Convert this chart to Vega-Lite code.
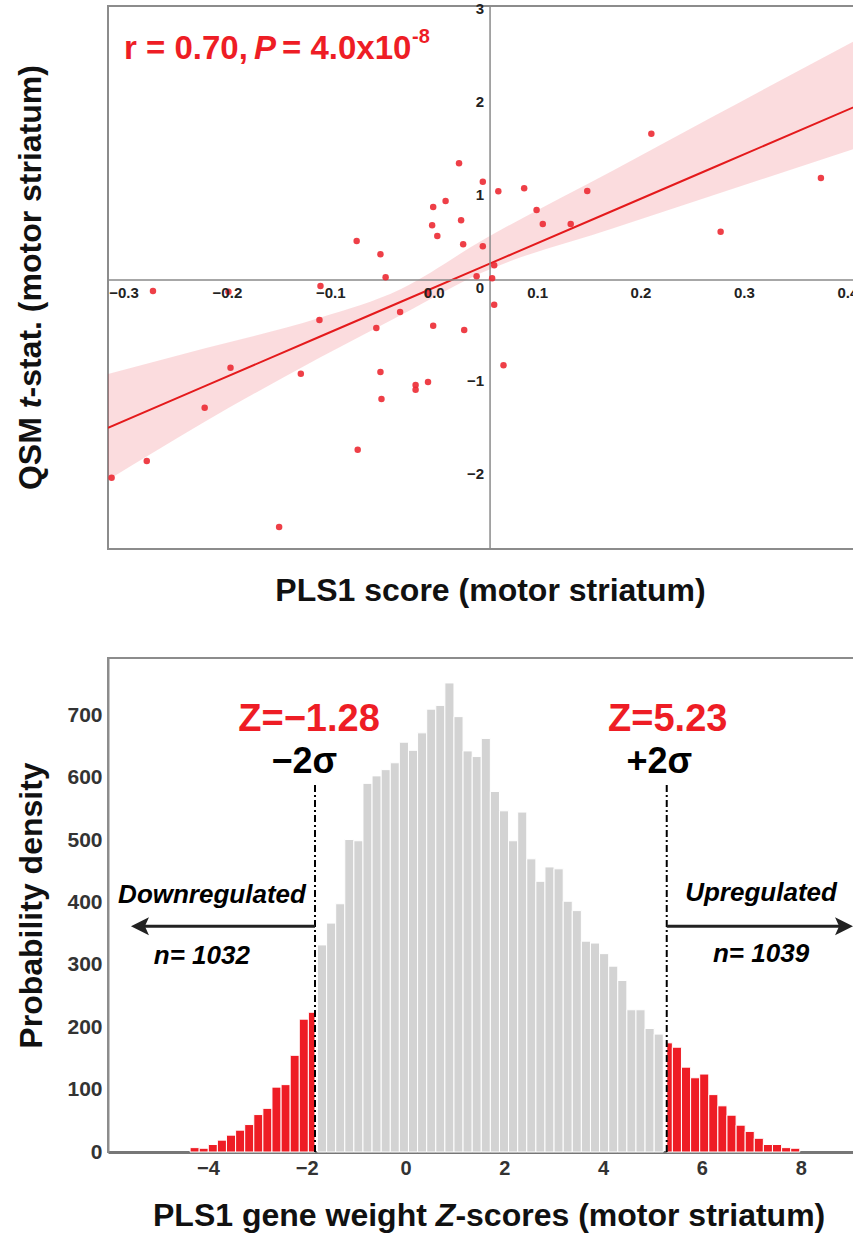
{
  "$schema": "https://vega.github.io/schema/vega-lite/v6.json",
  "background": "white",
  "padding": {"left": 13, "top": 0, "right": 0, "bottom": 0},
  "spacing": 109,
  "bounds": "flush",
  "datasets": {
    "points": [
      {"x": 0.024, "y": 1.341}, {"x": 0.047, "y": 1.143}, {"x": -0.001, "y": 0.871}, {"x": 0.011, "y": 0.935},
      {"x": 0.026, "y": 0.728}, {"x": -0.002, "y": 0.674}, {"x": 0.003, "y": 0.559}, {"x": 0.028, "y": 0.47},
      {"x": 0.047, "y": 0.448}, {"x": -0.075, "y": 0.505}, {"x": -0.052, "y": 0.362}, {"x": -0.047, "y": 0.115},
      {"x": 0.041, "y": 0.126}, {"x": 0.21, "y": 1.659}, {"x": 0.062, "y": 1.04}, {"x": 0.087, "y": 1.072},
      {"x": 0.099, "y": 0.839}, {"x": 0.105, "y": 0.688}, {"x": 0.132, "y": 0.688}, {"x": 0.148, "y": 1.043},
      {"x": 0.374, "y": 1.183}, {"x": 0.277, "y": 0.605}, {"x": 0.058, "y": 0.244}, {"x": 0.056, "y": 0.104},
      {"x": -0.272, "y": -0.032}, {"x": -0.199, "y": -0.04}, {"x": -0.11, "y": 0.022}, {"x": -0.006, "y": -0.061},
      {"x": -0.033, "y": -0.258}, {"x": -0.111, "y": -0.344}, {"x": -0.056, "y": -0.43}, {"x": -0.001, "y": -0.405},
      {"x": 0.029, "y": -0.452}, {"x": -0.197, "y": -0.857}, {"x": -0.129, "y": -0.922}, {"x": -0.052, "y": -0.903},
      {"x": -0.018, "y": -1.043}, {"x": -0.018, "y": -1.094}, {"x": -0.006, "y": -1.011}, {"x": -0.051, "y": -1.194},
      {"x": -0.222, "y": -1.287}, {"x": -0.278, "y": -1.86}, {"x": -0.312, "y": -2.04}, {"x": -0.074, "y": -1.739},
      {"x": -0.15, "y": -2.57}, {"x": 0.058, "y": -0.18}, {"x": 0.067, "y": -0.831}
    ],
    "fitband": [
      {"x": -0.3155, "lo": -2.065, "hi": -0.925, "fit": -1.503},
      {"x": -0.2207, "lo": -1.43, "hi": -0.645, "fit": -1.05},
      {"x": -0.1114, "lo": -0.753, "hi": -0.323, "fit": -0.527},
      {"x": -0.0321, "lo": -0.29, "hi": -0.011, "fit": -0.148},
      {"x": 0.0453, "lo": 0.161, "hi": 0.505, "fit": 0.222},
      {"x": 0.1739, "lo": 0.645, "hi": 1.269, "fit": 0.836},
      {"x": 0.2706, "lo": 1.0, "hi": 1.849, "fit": 1.298},
      {"x": 0.4234, "lo": 1.559, "hi": 2.758, "fit": 2.029}
    ],
    "spines": [{"cx": 0.054, "cy": 0.086}],
    "xticks": [
      {"v": -0.3, "t": "−0.3"}, {"v": -0.2, "t": "−0.2"}, {"v": -0.1, "t": "−0.1"}, {"v": 0.0, "t": "0.0"},
      {"v": 0.1, "t": "0.1"}, {"v": 0.2, "t": "0.2"}, {"v": 0.3, "t": "0.3"}, {"v": 0.4, "t": "0.4"}
    ],
    "yticks": [
      {"v": -2, "t": "−2"}, {"v": -1, "t": "−1"}, {"v": 0, "t": "0"},
      {"v": 1, "t": "1"}, {"v": 2, "t": "2"}, {"v": 3, "t": "3"}
    ],
    "yTitleUpright": [
      {"x": -0.3803, "y": -2.172, "t": "QSM"},
      {"x": -0.3803, "y": -1.177, "t": "-stat. (motor striatum)"}
    ],
    "yTitleItalic": [{"x": -0.3803, "y": -1.292, "t": "t"}],
    "statText": [
      {"x": -0.3, "y": 2.462, "t": "r = 0.70,"},
      {"x": -0.1472, "y": 2.462, "t": "= 4.0x10"}
    ],
    "statItalic": [{"x": -0.1743, "y": 2.462, "t": "P"}],
    "statSup": [{"x": -0.0215, "y": 2.634, "t": "-8"}],
    "hist": [
      {"a": -4.36, "b": -4.176, "n": 7, "g": "down"},
      {"a": -4.176, "b": -3.992, "n": 6, "g": "down"},
      {"a": -3.992, "b": -3.808, "n": 12, "g": "down"},
      {"a": -3.808, "b": -3.624, "n": 19, "g": "down"},
      {"a": -3.624, "b": -3.439, "n": 27, "g": "down"},
      {"a": -3.439, "b": -3.255, "n": 35, "g": "down"},
      {"a": -3.255, "b": -3.071, "n": 44, "g": "down"},
      {"a": -3.071, "b": -2.887, "n": 60, "g": "down"},
      {"a": -2.887, "b": -2.703, "n": 70, "g": "down"},
      {"a": -2.703, "b": -2.518, "n": 104, "g": "down"},
      {"a": -2.518, "b": -2.334, "n": 108, "g": "down"},
      {"a": -2.334, "b": -2.15, "n": 155, "g": "down"},
      {"a": -2.15, "b": -1.966, "n": 213, "g": "down"},
      {"a": -1.966, "b": -1.832, "n": 224, "g": "down"},
      {"a": -1.782, "b": -1.597, "n": 332, "g": "mid"},
      {"a": -1.597, "b": -1.413, "n": 367, "g": "mid"},
      {"a": -1.413, "b": -1.229, "n": 398, "g": "mid"},
      {"a": -1.229, "b": -1.045, "n": 501, "g": "mid"},
      {"a": -1.045, "b": -0.861, "n": 499, "g": "mid"},
      {"a": -0.861, "b": -0.677, "n": 591, "g": "mid"},
      {"a": -0.677, "b": -0.492, "n": 603, "g": "mid"},
      {"a": -0.492, "b": -0.308, "n": 613, "g": "mid"},
      {"a": -0.308, "b": -0.124, "n": 624, "g": "mid"},
      {"a": -0.124, "b": 0.06, "n": 657, "g": "mid"},
      {"a": 0.06, "b": 0.244, "n": 644, "g": "mid"},
      {"a": 0.244, "b": 0.429, "n": 672, "g": "mid"},
      {"a": 0.429, "b": 0.613, "n": 710, "g": "mid"},
      {"a": 0.613, "b": 0.797, "n": 716, "g": "mid"},
      {"a": 0.797, "b": 0.981, "n": 752, "g": "mid"},
      {"a": 0.981, "b": 1.165, "n": 698, "g": "mid"},
      {"a": 1.165, "b": 1.35, "n": 643, "g": "mid"},
      {"a": 1.35, "b": 1.534, "n": 634, "g": "mid"},
      {"a": 1.534, "b": 1.718, "n": 663, "g": "mid"},
      {"a": 1.718, "b": 1.902, "n": 578, "g": "mid"},
      {"a": 1.902, "b": 2.086, "n": 547, "g": "mid"},
      {"a": 2.086, "b": 2.271, "n": 499, "g": "mid"},
      {"a": 2.271, "b": 2.455, "n": 545, "g": "mid"},
      {"a": 2.455, "b": 2.639, "n": 470, "g": "mid"},
      {"a": 2.639, "b": 2.823, "n": 434, "g": "mid"},
      {"a": 2.823, "b": 3.007, "n": 457, "g": "mid"},
      {"a": 3.007, "b": 3.192, "n": 454, "g": "mid"},
      {"a": 3.192, "b": 3.376, "n": 402, "g": "mid"},
      {"a": 3.376, "b": 3.56, "n": 387, "g": "mid"},
      {"a": 3.56, "b": 3.744, "n": 338, "g": "mid"},
      {"a": 3.744, "b": 3.928, "n": 335, "g": "mid"},
      {"a": 3.928, "b": 4.113, "n": 318, "g": "mid"},
      {"a": 4.113, "b": 4.297, "n": 298, "g": "mid"},
      {"a": 4.297, "b": 4.481, "n": 275, "g": "mid"},
      {"a": 4.481, "b": 4.665, "n": 228, "g": "mid"},
      {"a": 4.665, "b": 4.849, "n": 228, "g": "mid"},
      {"a": 4.849, "b": 5.034, "n": 198, "g": "mid"},
      {"a": 5.034, "b": 5.218, "n": 189, "g": "mid"},
      {"a": 5.288, "b": 5.402, "n": 175, "g": "up"},
      {"a": 5.402, "b": 5.586, "n": 168, "g": "up"},
      {"a": 5.586, "b": 5.771, "n": 136, "g": "up"},
      {"a": 5.771, "b": 5.955, "n": 119, "g": "up"},
      {"a": 5.955, "b": 6.139, "n": 125, "g": "up"},
      {"a": 6.139, "b": 6.323, "n": 92, "g": "up"},
      {"a": 6.323, "b": 6.507, "n": 74, "g": "up"},
      {"a": 6.507, "b": 6.692, "n": 59, "g": "up"},
      {"a": 6.692, "b": 6.876, "n": 43, "g": "up"},
      {"a": 6.876, "b": 7.06, "n": 33, "g": "up"},
      {"a": 7.06, "b": 7.244, "n": 22, "g": "up"},
      {"a": 7.244, "b": 7.428, "n": 12, "g": "up"},
      {"a": 7.428, "b": 7.613, "n": 12, "g": "up"},
      {"a": 7.613, "b": 7.797, "n": 7, "g": "up"},
      {"a": 7.797, "b": 7.981, "n": 6, "g": "up"}
    ],
    "cutoffs": [{"z": -1.832, "bottom": 0, "top": 592}, {"z": 5.288, "bottom": 0, "top": 592}],
    "arrows": [
      {"from": -1.832, "to": -5.375, "level": 362, "dir": "left"},
      {"from": 5.288, "to": 8.877, "level": 362, "dir": "right"}
    ],
    "zLabels": [
      {"x": -1.953, "y": 675, "t": "Z=−1.28"},
      {"x": 5.308, "y": 675, "t": "Z=5.23"}
    ],
    "sigmaLabels": [
      {"x": -2.049, "y": 608, "t": "−2σ"},
      {"x": 5.138, "y": 608, "t": "+2σ"}
    ],
    "regLabels": [
      {"x": -3.917, "y": 400, "t": "Downregulated"},
      {"x": -4.123, "y": 302, "t": "n= 1032"},
      {"x": 7.197, "y": 403, "t": "Upregulated"},
      {"x": 7.197, "y": 305, "t": "n= 1039"}
    ],
    "xTitleUpright": [
      {"x": -5.111, "y": -118.4, "t": "PLS1 gene weight"},
      {"x": 1.01, "y": -118.4, "t": "-scores (motor striatum)"}
    ],
    "xTitleItalic": [{"x": 0.613, "y": -118.4, "t": "Z"}]
  },
  "vconcat": [
    {
      "width": 764,
      "height": 543,
      "layer": [
        {
          "data": {"name": "fitband"},
          "mark": {"type": "area", "color": "#e8262f", "opacity": 0.16, "interpolate": "monotone", "clip": true},
          "encoding": {
            "x": {"field": "x", "type": "quantitative",
                  "scale": {"domain": [-0.3155, 0.4234], "nice": false, "zero": false},
                  "axis": {"title": "PLS1 score (motor striatum)", "labels": false, "ticks": false, "domain": false, "titlePadding": 26}},
            "y": {"field": "lo", "type": "quantitative",
                  "scale": {"domain": [-2.806, 3.032], "nice": false, "zero": false},
                  "axis": null},
            "y2": {"field": "hi"}
          }
        },
        {
          "data": {"name": "fitband"},
          "mark": {"type": "line", "color": "#e41a1c", "strokeWidth": 2, "clip": true},
          "encoding": {
            "x": {"field": "x", "type": "quantitative"},
            "y": {"field": "fit", "type": "quantitative"}
          }
        },
        {
          "data": {"name": "spines"},
          "mark": {"type": "rule", "color": "#8a8a8a", "strokeWidth": 1.5},
          "encoding": {"x": {"field": "cx", "type": "quantitative"}}
        },
        {
          "data": {"name": "spines"},
          "mark": {"type": "rule", "color": "#8a8a8a", "strokeWidth": 1.5},
          "encoding": {"y": {"field": "cy", "type": "quantitative"}}
        },
        {
          "data": {"name": "points"},
          "mark": {"type": "circle", "size": 42, "color": "#ec2a33", "opacity": 0.9, "clip": true},
          "encoding": {
            "x": {"field": "x", "type": "quantitative"},
            "y": {"field": "y", "type": "quantitative"}
          }
        },
        {
          "data": {"name": "xticks"},
          "mark": {"type": "text", "font": "Liberation Sans", "fontWeight": "bold", "fontSize": 15, "color": "#222", "align": "center", "baseline": "middle", "dy": 13},
          "encoding": {
            "x": {"field": "v", "type": "quantitative"},
            "y": {"datum": 0.086},
            "text": {"field": "t"}
          }
        },
        {
          "data": {"name": "yticks"},
          "mark": {"type": "text", "font": "Liberation Sans", "fontWeight": "bold", "fontSize": 15, "color": "#222", "align": "right", "baseline": "middle", "dx": -6},
          "encoding": {
            "x": {"datum": 0.054},
            "y": {"field": "v", "type": "quantitative"},
            "text": {"field": "t"}
          }
        },
        {
          "data": {"name": "yTitleUpright"},
          "mark": {"type": "text", "font": "Liberation Sans", "fontWeight": "bold", "fontSize": 32, "color": "#111", "angle": 270, "align": "left", "baseline": "alphabetic"},
          "encoding": {
            "x": {"field": "x", "type": "quantitative"},
            "y": {"field": "y", "type": "quantitative"},
            "text": {"field": "t"}
          }
        },
        {
          "data": {"name": "yTitleItalic"},
          "mark": {"type": "text", "font": "Liberation Sans", "fontWeight": "bold", "fontStyle": "italic", "fontSize": 32, "color": "#111", "angle": 270, "align": "left", "baseline": "alphabetic"},
          "encoding": {
            "x": {"field": "x", "type": "quantitative"},
            "y": {"field": "y", "type": "quantitative"},
            "text": {"field": "t"}
          }
        },
        {
          "data": {"name": "statText"},
          "mark": {"type": "text", "font": "Liberation Sans", "fontWeight": "bold", "fontSize": 33, "color": "#ee1d25", "align": "left", "baseline": "alphabetic"},
          "encoding": {
            "x": {"field": "x", "type": "quantitative"},
            "y": {"field": "y", "type": "quantitative"},
            "text": {"field": "t"}
          }
        },
        {
          "data": {"name": "statItalic"},
          "mark": {"type": "text", "font": "Liberation Sans", "fontWeight": "bold", "fontStyle": "italic", "fontSize": 33, "color": "#ee1d25", "align": "left", "baseline": "alphabetic"},
          "encoding": {
            "x": {"field": "x", "type": "quantitative"},
            "y": {"field": "y", "type": "quantitative"},
            "text": {"field": "t"}
          }
        },
        {
          "data": {"name": "statSup"},
          "mark": {"type": "text", "font": "Liberation Sans", "fontWeight": "bold", "fontSize": 20, "color": "#ee1d25", "align": "left", "baseline": "alphabetic"},
          "encoding": {
            "x": {"field": "x", "type": "quantitative"},
            "y": {"field": "y", "type": "quantitative"},
            "text": {"field": "t"}
          }
        }
      ]
    },
    {
      "width": 764,
      "height": 494,
      "layer": [
        {
          "data": {"name": "hist"},
          "mark": {"type": "rect", "stroke": "white", "strokeWidth": 1},
          "encoding": {
            "x": {"field": "a", "type": "quantitative",
                  "scale": {"domain": [-6.022, 9.443], "nice": false, "zero": false},
                  "axis": {"title": null, "values": [-4, -2, 0, 2, 4, 6, 8],
                           "ticks": false, "labelPadding": 6, "labelFontSize": 20, "domainColor": "#777", "domainWidth": 3}},
            "x2": {"field": "b"},
            "y": {"field": "n", "type": "quantitative",
                  "scale": {"domain": [0, 792], "nice": false, "zero": true},
                  "axis": {"title": "Probability density", "values": [0, 100, 200, 300, 400, 500, 600, 700],
                           "ticks": false, "labelPadding": 6, "labelFontSize": 21, "domainColor": "#8c8c8c", "domainWidth": 2, "titlePadding": 18}},
            "y2": {"datum": 0},
            "color": {"field": "g", "type": "nominal",
                      "scale": {"domain": ["down", "mid", "up"], "range": ["#ee1d25", "#d3d3d3", "#ee1d25"]},
                      "legend": null}
          }
        },
        {
          "data": {"name": "cutoffs"},
          "mark": {"type": "rule", "color": "#000", "strokeWidth": 2, "strokeDash": [7, 3, 2, 3]},
          "encoding": {
            "x": {"field": "z", "type": "quantitative"},
            "y": {"field": "bottom", "type": "quantitative"},
            "y2": {"field": "top"}
          }
        },
        {
          "data": {"name": "arrows"},
          "mark": {"type": "rule", "color": "#222", "strokeWidth": 3},
          "encoding": {
            "x": {"field": "from", "type": "quantitative"},
            "x2": {"field": "to"},
            "y": {"field": "level", "type": "quantitative"}
          }
        },
        {
          "data": {"name": "arrows"},
          "mark": {"type": "point", "filled": true, "opacity": 1, "color": "#222", "size": 324},
          "encoding": {
            "x": {"field": "to", "type": "quantitative"},
            "y": {"field": "level", "type": "quantitative"},
            "shape": {"field": "dir", "type": "nominal",
                      "scale": {"domain": ["left", "right"], "range": ["M -1 0 L 1 -1 L 0.55 0 L 1 1 Z", "M 1 0 L -1 -1 L -0.55 0 L -1 1 Z"]},
                      "legend": null}
          }
        },
        {
          "data": {"name": "zLabels"},
          "mark": {"type": "text", "font": "Liberation Sans", "fontWeight": "bold", "fontSize": 38, "color": "#ee1d25", "align": "center", "baseline": "alphabetic"},
          "encoding": {
            "x": {"field": "x", "type": "quantitative"},
            "y": {"field": "y", "type": "quantitative"},
            "text": {"field": "t"}
          }
        },
        {
          "data": {"name": "sigmaLabels"},
          "mark": {"type": "text", "font": "Liberation Sans", "fontWeight": "bold", "fontSize": 36, "color": "#000", "align": "center", "baseline": "alphabetic"},
          "encoding": {
            "x": {"field": "x", "type": "quantitative"},
            "y": {"field": "y", "type": "quantitative"},
            "text": {"field": "t"}
          }
        },
        {
          "data": {"name": "regLabels"},
          "mark": {"type": "text", "font": "Liberation Sans", "fontWeight": "bold", "fontStyle": "italic", "fontSize": 26, "color": "#000", "align": "center", "baseline": "alphabetic"},
          "encoding": {
            "x": {"field": "x", "type": "quantitative"},
            "y": {"field": "y", "type": "quantitative"},
            "text": {"field": "t"}
          }
        },
        {
          "data": {"name": "xTitleUpright"},
          "mark": {"type": "text", "font": "Liberation Sans", "fontWeight": "bold", "fontSize": 32, "color": "#111", "align": "left", "baseline": "alphabetic"},
          "encoding": {
            "x": {"field": "x", "type": "quantitative"},
            "y": {"field": "y", "type": "quantitative"},
            "text": {"field": "t"}
          }
        },
        {
          "data": {"name": "xTitleItalic"},
          "mark": {"type": "text", "font": "Liberation Sans", "fontWeight": "bold", "fontStyle": "italic", "fontSize": 32, "color": "#111", "align": "left", "baseline": "alphabetic"},
          "encoding": {
            "x": {"field": "x", "type": "quantitative"},
            "y": {"field": "y", "type": "quantitative"},
            "text": {"field": "t"}
          }
        }
      ]
    }
  ],
  "config": {
    "font": "Liberation Sans",
    "view": {"stroke": "#8c8c8c", "strokeWidth": 2},
    "axis": {
      "grid": false,
      "titleFont": "Liberation Sans",
      "titleFontSize": 32,
      "titleFontWeight": "bold",
      "titleColor": "#111",
      "labelFont": "Liberation Sans",
      "labelFontWeight": "bold",
      "labelColor": "#333"
    }
  }
}
